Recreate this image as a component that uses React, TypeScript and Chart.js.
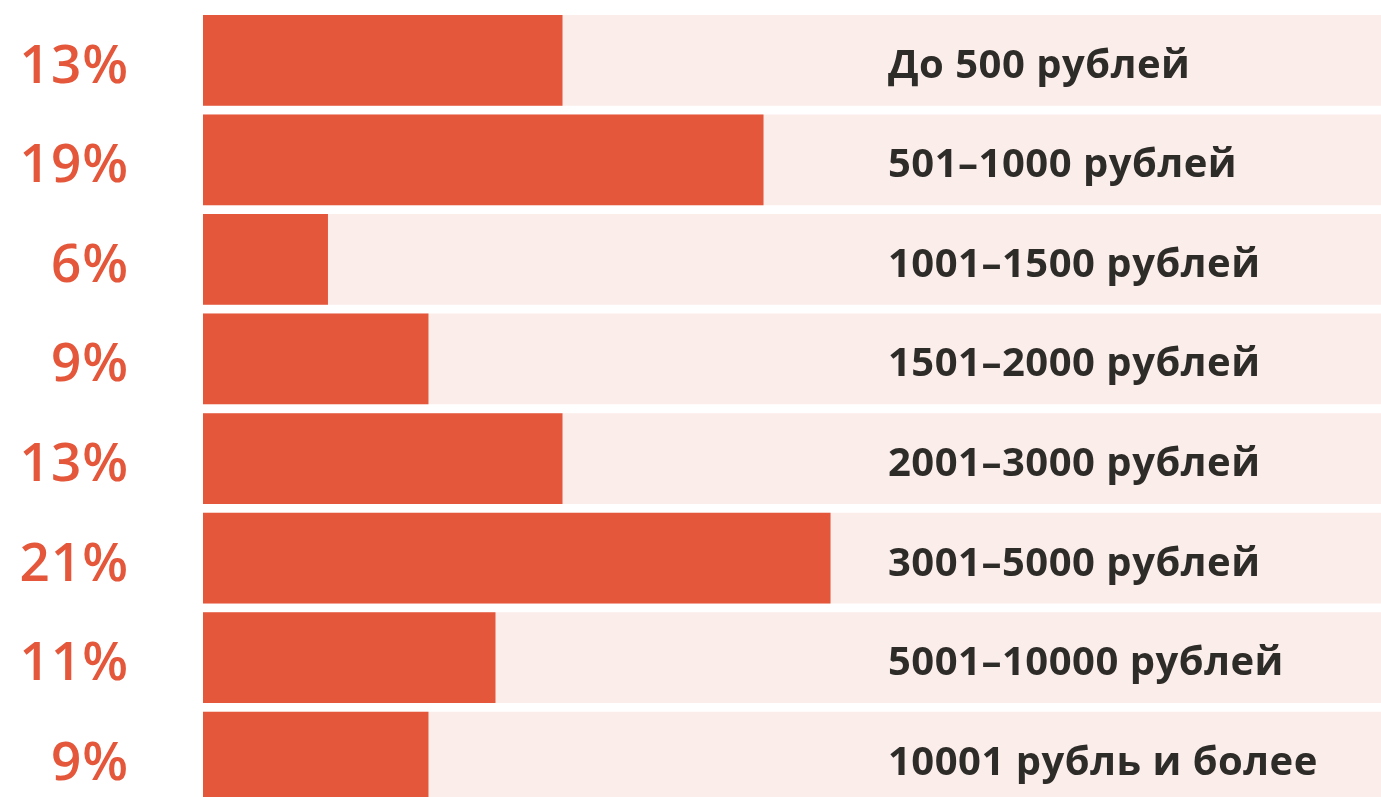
import React, { useEffect, useRef } from "react";
import { Chart, registerables } from "chart.js";

Chart.register(...registerables);

const categories = [
  "До 500 рублей",
  "501–1000 рублей",
  "1001–1500 рублей",
  "1501–2000 рублей",
  "2001–3000 рублей",
  "3001–5000 рублей",
  "5001–10000 рублей",
  "10001 рубль и более",
];
const shares = [13, 19, 6, 9, 13, 21, 11, 9];
const percentLabels = ["13%", "19%", "6%", "9%", "13%", "21%", "11%", "9%"];
const X_MIN = 2.27;
const X_MAX = 37.43;
const track = categories.map(() => X_MAX);

const RED = "#E5573A";
const PINK = "#FBEDEA";
const DARK = "#2E2C29";

const labelPlugin = {
  id: "rowLabels",
  afterDatasetsDraw(chart: any) {
    const { ctx, chartArea } = chart;
    const meta = chart.getDatasetMeta(0);
    ctx.save();
    meta.data.forEach((bar: any, i: number) => {
      const cy = bar.y;
      ctx.fillStyle = RED;
      ctx.font = "600 53px 'Open Sans'";
      (ctx as any).letterSpacing = "1px";
      ctx.textAlign = "right";
      ctx.textBaseline = "alphabetic";
      ctx.fillText(percentLabels[i], 129, cy + 22.5);
      ctx.fillStyle = DARK;
      ctx.font = "700 40px 'Open Sans'";
      (ctx as any).letterSpacing = "0.5px";
      ctx.textAlign = "left";
      ctx.fillText(categories[i], chartArea.left + 685, cy + 17.5);
    });
    (ctx as any).letterSpacing = "0px";
    ctx.restore();
  },
};

export default function App() {
  const ref = useRef<HTMLCanvasElement>(null);
  useEffect(() => {
    document.body.style.margin = "0";
    document.body.style.overflow = "hidden";
    const chart = new Chart(ref.current!, {
      type: "bar",
      data: {
        labels: categories,
        datasets: [
          {
            data: shares,
            backgroundColor: RED,
            order: 0,
            grouped: false,
            barPercentage: 0.911,
            categoryPercentage: 1,
          } as any,
          {
            data: track,
            backgroundColor: PINK,
            order: 1,
            grouped: false,
            barPercentage: 0.911,
            categoryPercentage: 1,
          } as any,
        ],
      },
      options: {
        indexAxis: "y",
        animation: false,
        responsive: false,
        layout: { padding: { left: 203, right: 0, top: 10.5, bottom: 0 } },
        plugins: { legend: { display: false }, tooltip: { enabled: false } },
        scales: {
          x: { min: X_MIN, max: X_MAX, display: false, grid: { display: false } },
          y: { display: false, grid: { display: false } },
        },
      },
      plugins: [labelPlugin],
    });
    return () => chart.destroy();
  }, []);
  return (
    <div style={{ width: 1381, height: 797, overflow: "hidden" }}>
      <canvas ref={ref} width={1381} height={807} />
    </div>
  );
}
